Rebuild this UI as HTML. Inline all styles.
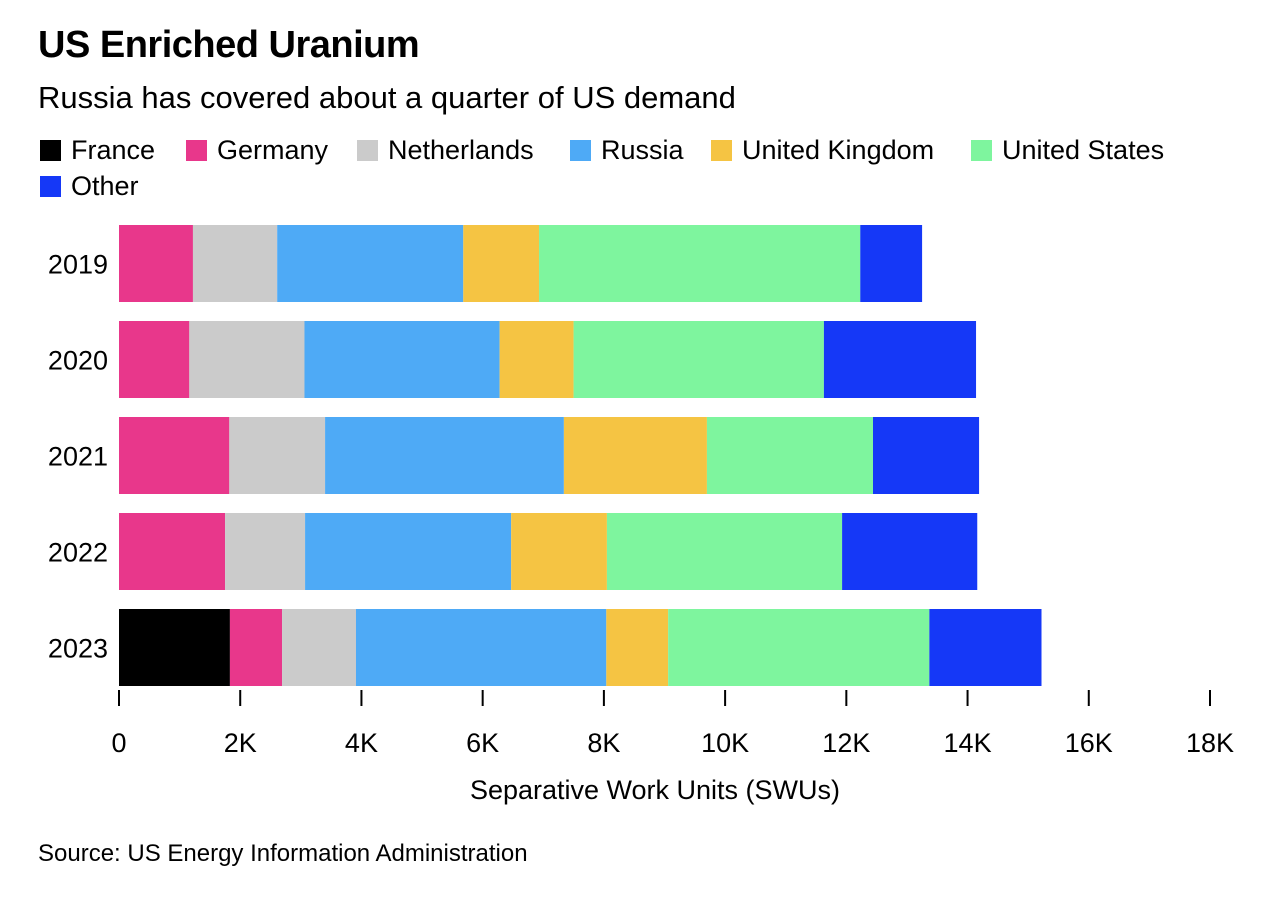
<!DOCTYPE html>
<html><head><meta charset="utf-8"><style>
body{margin:0;background:#fff;font-family:"Liberation Sans",sans-serif;color:#000;width:1272px;height:898px;overflow:hidden;position:relative}
.t{position:absolute;white-space:nowrap}
.leg{position:absolute;font-size:27px;display:flex;align-items:center}
.sw{width:21px;height:21px;margin-right:10px;display:inline-block}
</style></head><body>
<div class="t" style="left:38px;top:24px;font-size:38px;font-weight:bold;letter-spacing:-0.5px">US Enriched Uranium</div>
<div class="t" style="left:38px;top:80px;font-size:31px">Russia has covered about a quarter of US demand</div>
<div id="legend"></div>
<svg id="chart" width="1272" height="898" style="position:absolute;left:0;top:0" xmlns="http://www.w3.org/2000/svg"></svg>
<div class="t" style="left:38px;top:840px;font-size:24px">Source: US Energy Information Administration</div>
<script>
const years=["2019","2020","2021","2022","2023"];
const seriesNames=["France","Germany","Netherlands","Russia","United Kingdom","United States","Other"];
const colors=["#000000","#e8378b","#cbcbcb","#4eaaf6","#f5c443","#7ef59e","#1538f7"];
const france=[0,0,0,0,1.83];
const germany=[1.22,1.16,1.82,1.75,0.86];
const netherlands=[1.39,1.90,1.58,1.32,1.22];
const russia=[3.07,3.22,3.94,3.40,4.13];
const uk=[1.25,1.22,2.36,1.58,1.02];
const us=[5.30,4.13,2.74,3.88,4.31];
const other=[1.02,2.51,1.75,2.23,1.85];
const tickVals=[0,2,4,6,8,10,12,14,16,18];
const tickLabels=["0","2K","4K","6K","8K","10K","12K","14K","16K","18K"];
const series=[france,germany,netherlands,russia,uk,us,other];
const NS="http://www.w3.org/2000/svg";
const svg=document.getElementById('chart');
const x=v=>119+v*(1210-119)/18;
const yTop=i=>225+i*96;
const bh=77;
years.forEach((yr,i)=>{
  let acc=0;
  series.forEach((s,k)=>{
    const v=s[i];
    if(v>0){
      const r=document.createElementNS(NS,'rect');
      r.setAttribute('x',x(acc));r.setAttribute('y',yTop(i));
      r.setAttribute('width',x(acc+v)-x(acc));r.setAttribute('height',bh);
      r.setAttribute('fill',colors[k]);
      
      
      svg.appendChild(r);
    }
    acc+=v;
  });
  const t=document.createElementNS(NS,'text');
  t.setAttribute('x',108);t.setAttribute('y',yTop(i)+bh/2+10);
  t.setAttribute('text-anchor','end');t.setAttribute('font-size','27');
  t.setAttribute('font-family','Liberation Sans, sans-serif');
  t.textContent=yr;
  
  
  svg.appendChild(t);
});
tickVals.forEach((v,i)=>{
  const l=document.createElementNS(NS,'line');
  l.setAttribute('x1',x(v));l.setAttribute('x2',x(v));
  l.setAttribute('y1',690);l.setAttribute('y2',706);
  l.setAttribute('stroke','#000');l.setAttribute('stroke-width','2');
  
  
  svg.appendChild(l);
  const t=document.createElementNS(NS,'text');
  t.setAttribute('x',x(v));t.setAttribute('y',752);
  t.setAttribute('text-anchor','middle');t.setAttribute('font-size','27');
  t.setAttribute('font-family','Liberation Sans, sans-serif');
  t.textContent=tickLabels[i];
  
  
  svg.appendChild(t);
});
const at=document.createElementNS(NS,'text');
at.setAttribute('x',655);at.setAttribute('y',799);at.setAttribute('text-anchor','middle');
at.setAttribute('font-size','27');at.setAttribute('font-family','Liberation Sans, sans-serif');
at.textContent="Separative Work Units (SWUs)";


svg.appendChild(at);
const legPos=[[40,135],[186,135],[357,135],[570,135],[711,135],[971,135],[40,171]];
const leg=document.getElementById('legend');
seriesNames.forEach((n,k)=>{
  const d=document.createElement('div');
  d.className='leg';
  d.style.left=legPos[k][0]+'px';d.style.top=legPos[k][1]+'px';
  d.innerHTML='<span class="sw" style="background:'+colors[k]+'"></span>'+n;
  
  
  leg.appendChild(d);
});
</script>
</body></html>
